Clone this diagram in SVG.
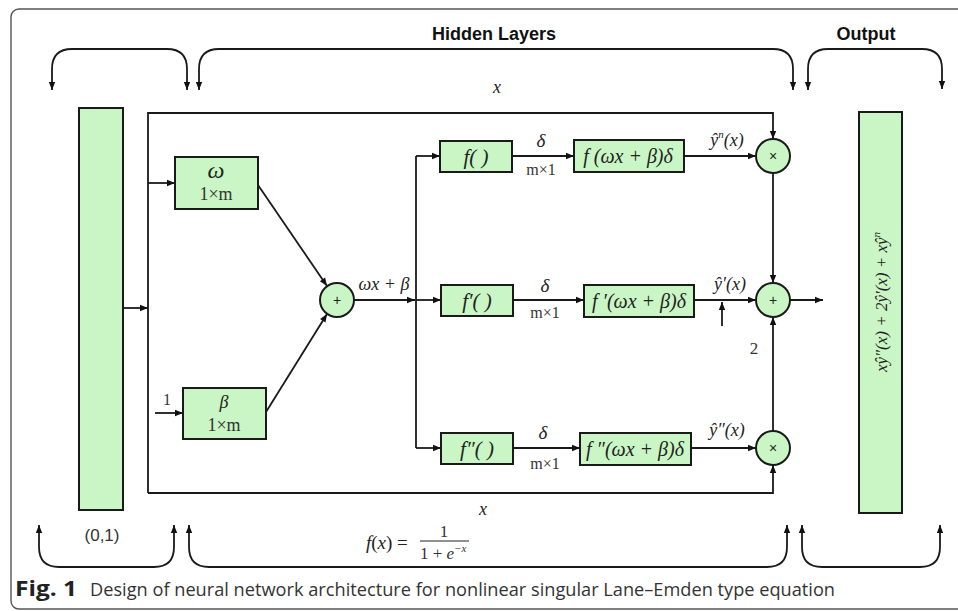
<svg xmlns="http://www.w3.org/2000/svg" width="958" height="611" viewBox="0 0 958 611">
<defs>
<marker id="ah" viewBox="0 0 10 10" refX="10" refY="5" markerWidth="9" markerHeight="8" markerUnits="userSpaceOnUse" orient="auto-start-reverse"><path d="M0,1 L10,5 L0,9 z" fill="#111"/></marker>
<style>
.box{fill:#c9f6c4;stroke:#1a1a1a;stroke-width:2}
.ln{fill:none;stroke:#1a1a1a;stroke-width:1.8}
.ar{fill:none;stroke:#1a1a1a;stroke-width:1.8;marker-end:url(#ah)}
.br{fill:none;stroke:#1a1a1a;stroke-width:1.8;marker-start:url(#ah);marker-end:url(#ah)}
.m{font-family:"Liberation Serif",serif;font-style:italic;fill:#222}
.s{font-family:"Liberation Serif",serif;fill:#333}
.h{font-family:"Liberation Sans",Arial,sans-serif;font-weight:bold;font-size:18px;fill:#111}
.o{font-family:"Liberation Sans",Arial,sans-serif;font-size:14px;fill:#222;text-anchor:middle}
.c{text-anchor:middle}
</style>
</defs>
<rect width="958" height="611" fill="#fff"/>
<path d="M965,9 H19 A8,8 0 0 0 11,17 V601 A8,8 0 0 0 19,609 H965" fill="none" stroke="#555" stroke-width="1.4"/>

<text class="h c" x="494" y="40">Hidden Layers</text>
<text class="h c" x="866" y="40">Output</text>

<g id="braces">
<path class="br" d="M52,90 V69 Q52,49 72,49 H167 Q187,49 187,69 V90"/>
<path class="br" d="M199,90 V69 Q199,49 219,49 H773 Q793,49 793,69 V90"/>
<path class="br" d="M808,90 V69 Q808,49 828,49 H922 Q942,49 942,69 V89"/>
<path class="br" d="M39,525 V547 Q39,567 59,567 H154 Q174,567 174,547 V525"/>
<path class="br" d="M189,525 V547 Q189,567 209,567 H767 Q787,567 787,547 V525"/>
<path class="br" d="M802,525 V547 Q802,567 822,567 H920 Q940,567 940,547 V525"/>
</g>

<g id="input">
<rect class="box" x="79" y="108" width="44" height="402"/>
<text x="102" y="541" class="c" font-family="Liberation Sans,Arial,sans-serif" font-size="17" fill="#333">(0,1)</text>
</g>

<g id="connectors">
<path class="ar" d="M123,308 H148"/>
<path class="ln" d="M148,493 V113 H773 V139" marker-end="url(#ah)"/>
<path class="ln" d="M148,493 H773 V465" marker-end="url(#ah)"/>
<path class="ar" d="M148,183 H175"/>
<path class="ar" d="M155,413 H183"/>
<path class="ar" d="M258,185 L327,286"/>
<path class="ar" d="M266,412 L327,314"/>
<path class="ar" d="M354,300 H415"/>
<path class="ln" d="M416,156 V448"/>
<path class="ar" d="M416,156 H440"/>
<path class="ar" d="M416,300 H441"/>
<path class="ar" d="M416,448 H441"/>
<path class="ar" d="M512,156 H574"/>
<path class="ar" d="M513,300 H584"/>
<path class="ar" d="M513,448 H580"/>
<path class="ar" d="M684,156 H756"/>
<path class="ar" d="M694,300 H756"/>
<path class="ar" d="M691,448 H756"/>
<path class="ar" d="M722,326 V302"/>
<path class="ar" d="M773,173 V283"/>
<path class="ar" d="M773,431 V317"/>
<path class="ar" d="M790,300 H823"/>
</g>

<g id="labels">
<text class="m c" x="497" y="93" font-size="18">x</text>
<text class="m c" x="483" y="515" font-size="18">x</text>
<text class="s" x="163" y="405" font-family="Liberation Sans,Arial,sans-serif" font-size="16">1</text>
<text class="m c" x="384" y="290" font-size="18">ωx + β</text>
<text class="m c" x="541" y="147" font-size="19">δ</text>
<text class="s c" x="541" y="175" font-size="16">m×1</text>
<text class="m c" x="545" y="292" font-size="19">δ</text>
<text class="s c" x="545" y="318" font-size="16">m×1</text>
<text class="m c" x="543" y="439" font-size="19">δ</text>
<text class="s c" x="545" y="469" font-size="16">m×1</text>
<text class="m c" x="727" y="146" font-size="18">ŷ<tspan font-size="11" dy="-8">n</tspan><tspan dy="8">(x)</tspan></text>
<text class="m c" x="730" y="290" font-size="18">ŷ′(x)</text>
<text class="m c" x="727" y="436" font-size="18">ŷ″(x)</text>
<text class="s c" x="754" y="354" font-size="17">2</text>
</g>

<g id="w">
<rect class="box" x="175" y="157" width="83" height="52"/>
<text class="m c" x="216" y="178" font-size="24">ω</text>
<text class="s c" x="216" y="200" font-size="18">1×m</text>
</g>
<g id="b">
<rect class="box" x="183" y="388" width="83" height="51"/>
<text class="m c" x="224" y="408" font-size="18">β</text>
<text class="s c" x="224" y="431" font-size="18">1×m</text>
</g>
<g id="sum1">
<circle class="box" cx="337" cy="300" r="17"/>
<text class="o" x="337" y="305">+</text>
</g>
<g id="f0">
<rect class="box" x="440" y="141" width="72" height="31"/>
<text class="m c" x="476" y="164" font-size="21">f( )</text>
</g>
<g id="f1">
<rect class="box" x="441" y="285" width="72" height="31"/>
<text class="m c" x="477" y="308" font-size="21">f′( )</text>
</g>
<g id="f2">
<rect class="box" x="441" y="433" width="72" height="31"/>
<text class="m c" x="477" y="456" font-size="21">f″( )</text>
</g>
<g id="g0">
<rect class="box" x="574" y="140" width="110" height="32"/>
<text class="m c" x="628" y="163" font-size="20">f (ωx + β)δ</text>
</g>
<g id="g1">
<rect class="box" x="584" y="285" width="110" height="32"/>
<text class="m c" x="639" y="308" font-size="20">f ′(ωx + β)δ</text>
</g>
<g id="g2">
<rect class="box" x="580" y="433" width="111" height="32"/>
<text class="m c" x="635" y="456" font-size="20">f ″(ωx + β)δ</text>
</g>
<g id="mul1">
<circle class="box" cx="773" cy="156" r="17"/>
<text class="o" x="773" y="161">×</text>
</g>
<g id="sum2">
<circle class="box" cx="773" cy="300" r="17"/>
<text class="o" x="773" y="305">+</text>
</g>
<g id="mul2">
<circle class="box" cx="773" cy="448" r="17"/>
<text class="o" x="773" y="453">×</text>
</g>
<g id="output">
<rect class="box" x="859" y="112" width="43" height="401"/>
<text class="m c" transform="translate(887,302) rotate(-90)" font-size="17">xŷ″(x) + 2ŷ′(x) + xŷ<tspan font-size="11" dy="-7">n</tspan></text>
</g>

<g id="formula">
<text class="m" x="366" y="549" font-size="19">f<tspan font-style="normal">(</tspan>x<tspan font-style="normal">) =</tspan></text>
<text class="s c" x="444" y="537" font-size="17">1</text>
<line x1="420" y1="541" x2="469" y2="541" stroke="#222" stroke-width="1"/>
<text class="s" x="420" y="559" font-size="17">1 + <tspan font-style="italic">e</tspan><tspan font-size="11" dy="-7" font-style="italic">−x</tspan></text>
</g>

<g id="caption">
<text x="15" y="596" font-family="Open Sans,Liberation Sans,sans-serif" font-weight="bold" font-size="21" fill="#222" textLength="62" lengthAdjust="spacingAndGlyphs">Fig. 1</text>
<text x="90" y="596" font-family="Open Sans,Liberation Sans,sans-serif" font-size="19" fill="#333" textLength="745" lengthAdjust="spacingAndGlyphs">Design of neural network architecture for nonlinear singular Lane–Emden type equation</text>
</g>
</svg>
